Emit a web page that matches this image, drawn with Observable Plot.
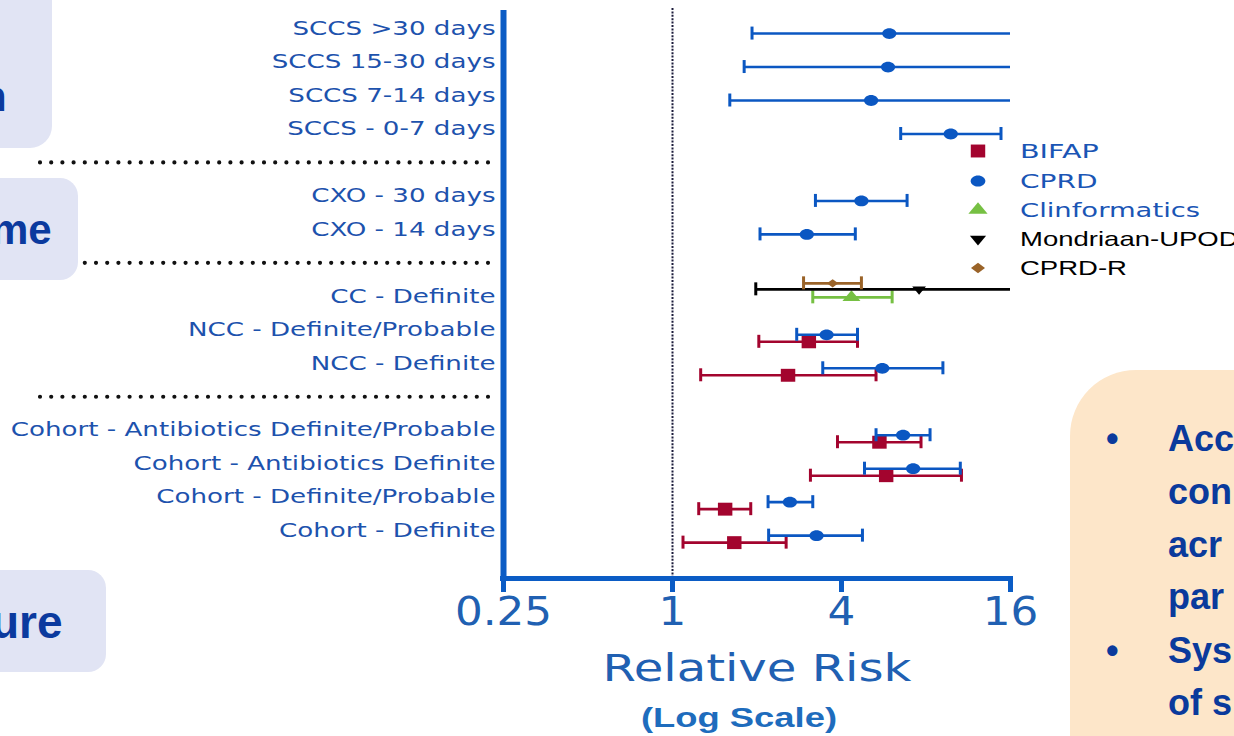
<!DOCTYPE html>
<html><head><meta charset="utf-8">
<script src="https://cdn.jsdelivr.net/npm/d3@7"></script>
<script src="https://cdn.jsdelivr.net/npm/@observablehq/plot@0.6"></script>
<style>
body{margin:0;width:1234px;height:736px;overflow:hidden;background:#fff;position:relative;font-family:"Liberation Sans",Arial,sans-serif}
#chart{position:absolute;left:0;top:0}
.box{position:absolute;overflow:hidden}
.lav{background:#e1e4f4}
.big{position:absolute;font-weight:bold;color:#0b3a9e;font-size:42px;line-height:1;white-space:nowrap}
.peach{background:#fde6c9}
.bl{position:absolute;font-weight:bold;color:#0a3a9c;font-size:36px;line-height:1;white-space:nowrap}
.leg{position:absolute;left:960px;height:30px;width:280px}
.leg svg{position:absolute;left:0;top:0}
.leg span{position:absolute;left:60px;top:50%;white-space:nowrap;transform-origin:0 50%}
</style></head><body>
<div id="chart"></div>
<script>
// ---- data ----
const rowLabels = [
  "SCCS >30 days", "SCCS 15-30 days", "SCCS 7-14 days", "SCCS - 0-7 days",
  "CXO - 30 days", "CXO - 14 days",
  "CC - Definite", "NCC - Definite/Probable", "NCC - Definite",
  "Cohort - Antibiotics Definite/Probable", "Cohort - Antibiotics Definite",
  "Cohort - Definite/Probable", "Cohort - Definite"
];
const rowSlots = [0, 1, 2, 3, 5, 6, 8, 9, 10, 12, 13, 14, 15];
const separatorSlots = [4, 7, 11];
const xTicks = [0.25, 1, 4, 16];
const refValue = 1;
const seriesNames = ["BIFAP", "CPRD", "Clinformatics", "Mondriaan-UPOD", "CPRD-R"];
// [row, lower, estimate, upper]  (upper null = beyond 16)
const bifap = [
  ["NCC - Definite/Probable", 2.03, 3.06, 4.56],
  ["NCC - Definite", 1.26, 2.58, 5.31],
  ["Cohort - Antibiotics Definite/Probable", 3.87, 5.46, 7.68],
  ["Cohort - Antibiotics Definite", 3.1, 5.77, 10.7],
  ["Cohort - Definite/Probable", 1.24, 1.54, 1.90],
  ["Cohort - Definite", 1.09, 1.66, 2.54]
];
const cprd = [
  ["SCCS >30 days", 1.92, 5.92, null],
  ["SCCS 15-30 days", 1.80, 5.86, null],
  ["SCCS 7-14 days", 1.60, 5.1, null],
  ["SCCS - 0-7 days", 6.5, 9.8, 14.8],
  ["CXO - 30 days", 3.23, 4.71, 6.85],
  ["CXO - 14 days", 2.05, 3.01, 4.48],
  ["NCC - Definite/Probable", 2.77, 3.54, 4.56],
  ["NCC - Definite", 3.43, 5.59, 9.19],
  ["Cohort - Antibiotics Definite/Probable", 5.31, 6.63, 8.27],
  ["Cohort - Antibiotics Definite", 4.83, 7.2, 10.6],
  ["Cohort - Definite/Probable", 2.19, 2.62, 3.16],
  ["Cohort - Definite", 2.20, 3.26, 4.75]
];
const clinformatics = [["CC - Definite", 3.16, 4.34, 6.06]];
const mondriaan = [["CC - Definite", 1.98, 7.56, null]];
const cprdR = [["CC - Definite", 2.93, 3.72, 4.71]];
const seriesData = [bifap, cprd, clinformatics, mondriaan, cprdR];

// ---- styles ----
const ellipse = {draw(ctx, size) {
  const r = Math.sqrt(size / Math.PI), rx = r * 1.15, ry = r * 0.87, k = 0.5523;
  ctx.moveTo(rx, 0);
  ctx.bezierCurveTo(rx, ry * k, rx * k, ry, 0, ry);
  ctx.bezierCurveTo(-rx * k, ry, -rx, ry * k, -rx, 0);
  ctx.bezierCurveTo(-rx, -ry * k, -rx * k, -ry, 0, -ry);
  ctx.bezierCurveTo(rx * k, -ry, rx, -ry * k, rx, 0);
  ctx.closePath();
}};
const flatDiamond = {draw(ctx, size) {
  const r = Math.sqrt(size / Math.PI), rx = r * 1.3, ry = r * 0.95;
  ctx.moveTo(rx, 0); ctx.lineTo(0, ry); ctx.lineTo(-rx, 0); ctx.lineTo(0, -ry); ctx.closePath();
}};
const flatTriangle = {draw(ctx, size) {
  const r = Math.sqrt(size / Math.PI), w = r * 1.5, h = r * 1.8;
  ctx.moveTo(0, -h * 2 / 3); ctx.lineTo(w, h / 3); ctx.lineTo(-w, h / 3); ctx.closePath();
}};
const rectSym = {draw(ctx, size) {
  const r = Math.sqrt(size / Math.PI), w = r * 0.95, h = r * 0.85;
  ctx.moveTo(-w, -h); ctx.lineTo(w, -h); ctx.lineTo(w, h); ctx.lineTo(-w, h); ctx.closePath();
}};
const styles = {
  "BIFAP":          {color: "#a3042e", symbol: rectSym,      r: 7.6, rotate: 0,   dy: 12,  legR: 7.6, legText: "#1a55b5", legFont: "DejaVu Sans", legSize: 20, legScale: 1.43},
  "CPRD":           {color: "#0b57c2", symbol: ellipse,      r: 6.2, rotate: 0,   dy: 5,   legR: 6.4, legText: "#1a55b5", legFont: "DejaVu Sans", legSize: 20, legScale: 1.4},
  "Clinformatics":  {color: "#76c043", symbol: flatTriangle, r: 6.0, rotate: 0,   dy: 1,   legR: 6.4, legText: "#1a55b5", legFont: "DejaVu Sans", legSize: 20, legScale: 1.37},
  "Mondriaan-UPOD": {color: "#000000", symbol: flatTriangle, r: 4.6, rotate: 180, dy: -7,  legR: 5.4, legText: "#000",    legFont: "Liberation Sans", legSize: 21, legScale: 1.31},
  "CPRD-R":         {color: "#9a6328", symbol: flatDiamond,  r: 4.4, rotate: 0,   dy: -13, legR: 5.4, legText: "#000",    legFont: "Liberation Sans", legSize: 21, legScale: 1.31}
};
const axisColor = "#0b5cc5", labelColor = "#1d52ad", tickColor = "#2060b2";
const xDomain = [xTicks[0], xTicks[xTicks.length - 1]];
const slotByLabel = new Map(rowLabels.map((l, i) => [l, rowSlots[i]]));
const labelBySlot = new Map(rowSlots.map((s, i) => [s, rowLabels[i]]));
const yDomain = [-0.54, 16.43];

const marks = [];
marks.push(Plot.ruleY(separatorSlots, {y: d => d, stroke: "#111", strokeWidth: 4.2,
  strokeDasharray: "0,11.2", strokeLinecap: "round", insetLeft: -463, insetRight: 520}));
marks.push(Plot.ruleX([refValue], {stroke: "#1b1b3b", strokeWidth: 2, strokeDasharray: "2,1.4", insetTop: -2}));

seriesNames.forEach((name, si) => {
  const s = styles[name];
  const rows = seriesData[si].map(([row, lo, est, hi]) => ({row, slot: slotByLabel.get(row), lo, est, hi, hiDraw: hi == null ? xDomain[1] : hi}));
  marks.push(Plot.ruleY(rows, {y: "slot", x1: "lo", x2: "hiDraw", stroke: s.color, strokeWidth: 2.6, dy: s.dy}));
  marks.push(Plot.ruleX(rows, {x: "lo", y1: "slot", y2: "slot", insetTop: -6.5, insetBottom: -6.5, stroke: s.color, strokeWidth: 3, dy: s.dy}));
  marks.push(Plot.ruleX(rows.filter(d => d.hi != null), {x: "hi", y1: "slot", y2: "slot", insetTop: -6.5, insetBottom: -6.5, stroke: s.color, strokeWidth: 3, dy: s.dy}));
  marks.push(Plot.dot(rows, {x: "est", y: "slot", symbol: s.symbol, r: s.r, fill: s.color, stroke: "none", rotate: s.rotate, dy: s.dy}));
});

marks.push(Plot.ruleX([xDomain[0]], {stroke: axisColor, strokeWidth: 6, insetBottom: -2}));
marks.push(Plot.ruleY([yDomain[1]], {stroke: axisColor, strokeWidth: 5, insetLeft: -3, insetRight: -3}));
marks.push(Plot.axisX({ticks: xTicks, tickFormat: d => String(d), tickSize: 14, tickPadding: 5,
  fontSize: 39, stroke: axisColor, strokeWidth: 5, fill: tickColor, label: null, fontFamily: "DejaVu Sans"}));
marks.push(Plot.axisY({ticks: rowSlots, tickFormat: d => labelBySlot.get(d), tickSize: 0, tickPadding: 8,
  fontSize: 19.5, fill: labelColor, label: null, fontFamily: "DejaVu Sans"}));
marks.push(Plot.text(["Relative Risk"], {text: d => d, frameAnchor: "bottom", dy: 102, fontSize: 37, fill: tickColor, fontFamily: "DejaVu Sans"}));
marks.push(Plot.text(["(Log Scale)"], {text: d => d, frameAnchor: "bottom", dy: 148, dx: -18, fontSize: 28, fontWeight: "bold", fill: "#1e6cbd", fontFamily: "Liberation Sans"}));

const plot = Plot.plot({
  width: 1234, height: 736,
  marginLeft: 503, marginRight: 224, marginTop: 10, marginBottom: 158,
  x: {type: "log", base: 2, domain: xDomain},
  y: {domain: yDomain, reverse: true},
  style: {fontFamily: "DejaVu Sans", background: "transparent", overflow: "visible"},
  marks
});
document.getElementById("chart").appendChild(plot);

// horizontal stretch of texts (the reference typography is wide)
function stretch(selector, s, anchor) {
  plot.querySelectorAll(selector).forEach(el => {
    const b = el.getBBox();
    const ax = anchor === "end" ? b.x + b.width : anchor === "start" ? b.x : b.x + b.width / 2;
    const t = el.getAttribute("transform") || "";
    el.setAttribute("transform", `${t} translate(${ax},0) scale(${s},1) translate(${-ax},0)`);
  });
}
stretch('g[aria-label="y-axis tick label"] text', 1.34, "end");
stretch('g[aria-label="x-axis tick label"] text', 1.12, "middle");
stretch('g[aria-label="text"] text', 1.3, "middle");

// ---- legend ----
const legTops = [151, 181, 210, 239, 268];
seriesNames.forEach((name, i) => {
  const s = styles[name];
  const div = document.createElement("div");
  div.className = "leg";
  div.style.top = (legTops[i] - 15) + "px";
  const svg = d3.create("svg").attr("width", 40).attr("height", 30);
  svg.append("path").attr("d", d3.symbol(s.symbol, Math.PI * s.legR * s.legR)())
    .attr("fill", s.color).attr("transform", `translate(18,15) rotate(${s.rotate})`);
  div.appendChild(svg.node());
  const sp = document.createElement("span");
  sp.textContent = name;
  sp.style.color = s.legText; sp.style.fontFamily = s.legFont; sp.style.fontSize = s.legSize + "px";
  sp.style.transform = `translateY(-50%) scaleX(${s.legScale})`;
  div.appendChild(sp);
  document.body.appendChild(div);
});
</script>
<div class="box lav" style="left:-20px;top:-20px;width:72px;height:168px;border-radius:22px"><div class="big" style="left:1px;top:96px">n</div></div>
<div class="box lav" style="left:-20px;top:178px;width:98px;height:102px;border-radius:18px"><div class="big" style="left:11px;top:31px">me</div></div>
<div class="box lav" style="left:-20px;top:570px;width:126px;height:102px;border-radius:18px"><div class="big" style="left:11px;top:29px;font-size:46px">ure</div></div>
<div class="box peach" style="left:1070px;top:370px;width:220px;height:420px;border-radius:66px 0 0 0">
  <div class="bl" style="left:36px;top:51px">•</div><div class="bl" style="left:98px;top:51px">Acc</div>
  <div class="bl" style="left:98px;top:104px">con</div>
  <div class="bl" style="left:98px;top:157px">acr</div>
  <div class="bl" style="left:98px;top:209px">par</div>
  <div class="bl" style="left:36px;top:263px">•</div><div class="bl" style="left:98px;top:263px">Sys</div>
  <div class="bl" style="left:98px;top:315px">of s</div>
</div>
</body></html>
